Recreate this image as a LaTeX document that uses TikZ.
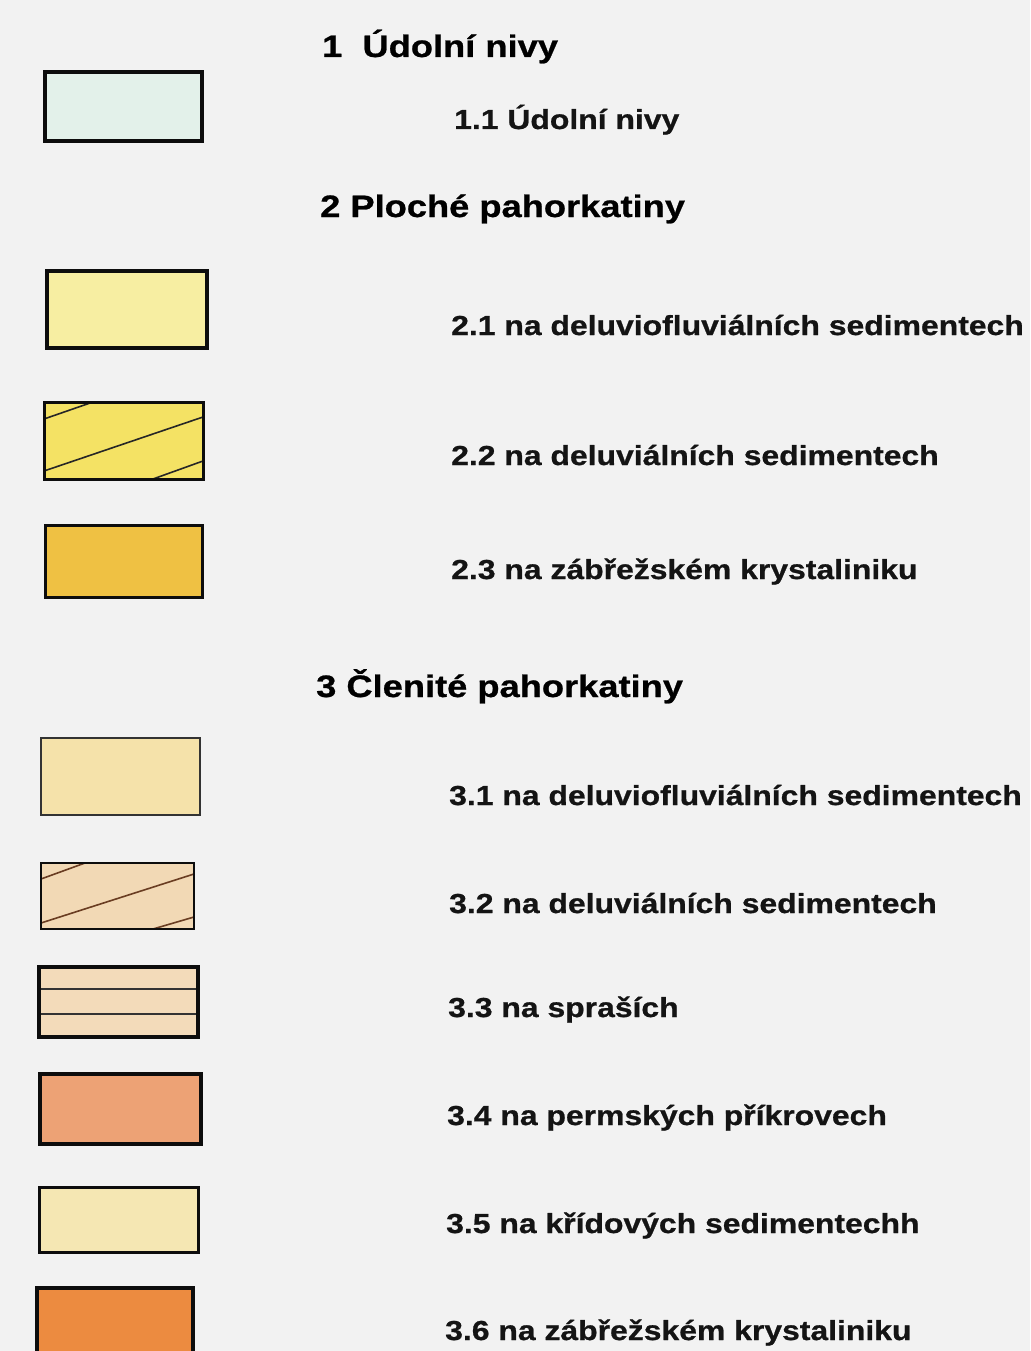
\documentclass[tikz,border=0pt]{standalone}
\usepackage{fontspec}
\newfontfamily\headfont{Liberation Sans}[FakeStretch=1.17,FakeBold=0.8]
\newfontfamily\subfont{Liberation Sans}[FakeStretch=1.16,FakeBold=0.8]
\definecolor{bgc}{HTML}{F2F2F2}
\definecolor{c11}{HTML}{E3F1EA}
\definecolor{c21}{HTML}{F7EEA2}
\definecolor{c22}{HTML}{F4E264}
\definecolor{c23}{HTML}{EFC143}
\definecolor{c31}{HTML}{F5E2AA}
\definecolor{c32}{HTML}{F2D9B5}
\definecolor{c33}{HTML}{F3DBBA}
\definecolor{c34}{HTML}{EDA275}
\definecolor{c35}{HTML}{F5E7B3}
\definecolor{c36}{HTML}{EC8B40}
\definecolor{hatchbrown}{HTML}{6A3D22}
\tikzset{
  heading/.style={anchor=base west, inner sep=0pt, font=\headfont\bfseries\fontsize{31}{36}\selectfont, text=black},
  subitem/.style={anchor=base west, inner sep=0pt, font=\subfont\bfseries\fontsize{27.5}{32}\selectfont, text=black!92},
  swatch/.style={draw=black!95, line width=3.4pt},
  hatch/.style={line width=1.6pt, draw=black!85},
}
\begin{document}
\begin{tikzpicture}[x=1pt,y=-1pt]
\fill[bgc] (0,0) rectangle (1030,1351);
\useasboundingbox (0,0) rectangle (1030,1351);

% swatches
\draw[swatch, fill=c11] (45,72) rectangle (202,141);
\draw[swatch, fill=c21] (47,271) rectangle (207,348);
\fill[c22] (44,402) rectangle (203,479);
\begin{scope}
  \clip (44,402) rectangle (203,479);
  \draw[hatch] (44,419) -- (93,402);
  \draw[hatch] (44,471) -- (203,417);
  \draw[hatch] (153,479) -- (203,461);
\end{scope}
\draw[swatch, line width=3pt] (44,402) rectangle (203,479);
\draw[swatch, line width=3pt, fill=c23] (45,525) rectangle (202,597);

\draw[swatch, draw=black!80, line width=2.6pt, fill=c31] (41,738) rectangle (200,815);
\fill[c32] (41,863) rectangle (194,929);
\begin{scope}
  \clip (41,863) rectangle (194,929);
  \draw[hatch, draw=hatchbrown] (41,879) -- (85,863);
  \draw[hatch, draw=hatchbrown] (41,923) -- (194,874);
  \draw[hatch, draw=hatchbrown] (153,929) -- (194,917);
\end{scope}
\draw[swatch, line width=2.6pt] (41,863) rectangle (194,929);
\fill[c33] (39,967) rectangle (198,1037);
\draw[hatch, draw=black!80] (39,989) -- (198,989);
\draw[hatch, draw=black!80] (39,1014) -- (198,1014);
\draw[swatch, line width=3.4pt] (39,967) rectangle (198,1037);
\draw[swatch, line width=3.4pt, fill=c34] (40,1074) rectangle (201,1144);
\draw[swatch, line width=3pt, fill=c35] (39,1187) rectangle (198,1252);
\draw[swatch, line width=3.4pt, fill=c36] (37,1288) rectangle (193,1360);

% texts
\node[heading] (h1) at (322,57) {1\ \ Údolní nivy};
\node[subitem] (t11) at (454,129) {1.1 Údolní nivy};
\node[heading] (h2) at (320,217) {2 Ploché pahorkatiny};
\node[subitem] (t21) at (451,335) {2.1 na deluviofluviálních sedimentech};
\node[subitem] (t22) at (451,465) {2.2 na deluviálních sedimentech};
\node[subitem] (t23) at (451,579) {2.3 na zábřežském krystaliniku};
\node[heading] (h3) at (316,697) {3 Členité pahorkatiny};
\node[subitem] (t31) at (449,805) {3.1 na deluviofluviálních sedimentech};
\node[subitem] (t32) at (449,913) {3.2 na deluviálních sedimentech};
\node[subitem] (t33) at (448,1017) {3.3 na spraších};
\node[subitem] (t34) at (447,1125) {3.4 na permských příkrovech};
\node[subitem] (t35) at (446,1233) {3.5 na křídových sedimentechh};
\node[subitem] (t36) at (445,1340) {3.6 na zábřežském krystaliniku};
\end{tikzpicture}
\end{document}
